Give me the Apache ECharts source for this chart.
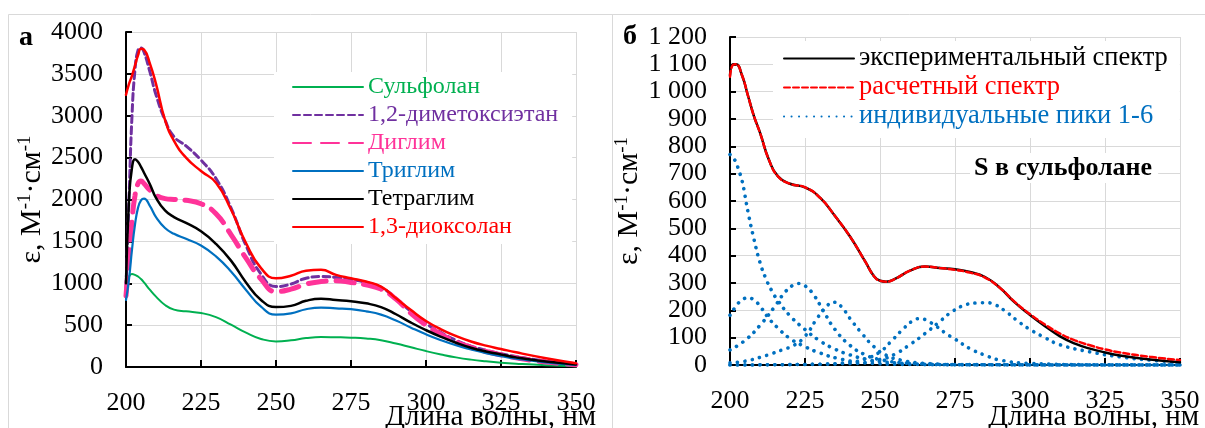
<!DOCTYPE html>
<html><head><meta charset="utf-8">
<script src="https://cdn.jsdelivr.net/npm/echarts@6/dist/echarts.min.js"></script>
<style>html,body{margin:0;padding:0;background:#fff}#c{width:1205px;height:428px}</style>
</head><body><div id="c"></div>
<script>
// ---------- Panel а : spectra in different solvents ----------
const wlLeft = [200,201,202,203,204,205,206,208,210,213,216,220,225,230,235,240,245,250,255,260,265,270,275,280,285,290,295,300,305,310,315,320,325,330,340,350];
const sulfolane  = [1000,1080,1110,1100,1080,1050,1010,920,840,740,685,665,645,595,505,410,335,305,318,345,358,355,350,340,320,280,235,190,150,115,88,68,52,40,22,10];
const dme        = [950,2000,3000,3550,3780,3810,3760,3520,3250,2950,2750,2640,2470,2250,1900,1450,1110,960,990,1060,1080,1070,1045,1010,950,820,660,520,410,320,250,200,160,125,70,35];
const diglyme    = [850,1300,1750,2050,2190,2220,2190,2110,2050,2010,2000,1990,1950,1830,1580,1300,1050,900,930,990,1020,1030,1010,980,930,810,640,500,390,300,235,185,145,110,60,28];
const triglyme   = [800,1050,1400,1700,1900,1990,2010,1920,1790,1660,1590,1530,1450,1320,1140,920,720,625,640,690,710,700,690,665,625,555,470,390,320,260,210,165,130,100,55,25];
const tetraglyme = [1000,2000,2380,2480,2450,2390,2320,2180,2020,1870,1790,1720,1620,1470,1270,1010,800,715,730,790,815,800,785,760,715,630,530,440,360,290,230,185,150,115,65,30];
const dioxolane  = [3250,3380,3480,3600,3720,3800,3790,3620,3380,2950,2700,2500,2340,2200,1880,1480,1180,1060,1090,1150,1160,1100,1060,1020,960,820,680,550,450,370,305,255,215,175,105,45];
const leftNames = ['Сульфолан','1,2-диметоксиэтан','Диглим','Триглим','Тетраглим','1,3-диоксолан'];

// ---------- Panel б : S in sulfolane, deconvolution ----------
const wlRight = [200,201,202,204,206,208,210,213,216,220,225,230,235,240,245,248,250,252,255,260,265,270,275,280,285,290,295,300,305,310,315,320,325,330,340,350];
const expSpectrum  = [1060,1100,1100,1060,985,910,850,750,690,663,650,612,545,470,380,325,308,305,315,345,360,355,350,340,322,282,228,183,142,105,78,60,46,35,20,10];
const calcSpectrum = [1055,1098,1100,1060,985,910,850,750,690,663,650,612,545,470,380,325,308,305,315,345,360,355,348,338,320,282,230,186,148,115,90,72,57,46,30,18];
const wlP1 = [200,201,202,203,204,205,206,208,210,212,214,216,220,225,230,235,240,245,250,260,270,290,320,350];
const peak1 = [770,760,740,710,675,620,560,460,375,315,270,235,180,130,88,58,37,22,13,5,2,1,0,0];
const wlP2 = [200,202,204,206,208,210,213,216,220,225,230,236,245,260,290,350];
const peak2 = [182,215,238,245,238,215,170,135,97,67,44,24,8,2,0,0];
const wlP3 = [200,205,210,215,218,221,223,225,228,231,235,240,245,250,260,275,350];
const peak3 = [55,90,145,215,262,292,298,290,255,200,130,72,38,20,6,1,0];
const wlP4 = [200,205,210,214,218,221,225,229,232,234.5,237,240,244,248,252,257,265,280,350];
const peak4 = [8,14,28,42,58,70,105,170,212,230,215,170,115,67,36,18,6,1,0];
const wlP5 = [200,230,240,245,250,254,258,261,263.5,266,269,272,275,280,285,290,300,320,350];
const peak5 = [0,3,10,22,48,90,135,162,170,160,140,115,95,60,36,18,6,1,0];
const wlP6 = [200,240,250,255,260,265,270,274,278,282,285,288,292,296,300,305,310,320,330,340,350];
const peak6 = [0,5,20,40,75,115,160,195,218,227,228,222,195,160,130,100,74,48,30,18,10];
const rightNames = ['экспериментальный спектр','расчетный спектр','индивидуальные пики 1-6'];

const xTicks = [200,225,250,275,300,325,350];
const yTicksLeft = ['0','500','1000','1500','2000','2500','3000','3500','4000'];
const yTicksRight = ['0','100','200','300','400','500','600','700','800','900','1 000','1 100','1 200'];

const FONT = 'Liberation Serif';
const pairs = (xs, ys) => xs.map((x, i) => [x, ys[i]]);

const chart = echarts.init(document.getElementById('c'), null, {renderer: 'canvas'});

function xAxis(gridIndex) {
  return {
    type: 'value', gridIndex, min: 200, max: 350, interval: 25,
    axisLine: {lineStyle: {color: '#000', width: 2}},
    axisTick: {inside: true, length: 7, lineStyle: {color: '#000', width: 2}},
    axisLabel: {margin: 23, fontFamily: FONT, fontSize: 26, color: '#000',
      formatter: v => String(xTicks[xTicks.indexOf(v)])},
    splitLine: {show: true, lineStyle: {color: '#d9d9d9', width: 1}}
  };
}
function yAxis(gridIndex, max, interval, labels, gap) {
  return {
    type: 'value', gridIndex, min: 0, max, interval,
    axisLine: {show: true, lineStyle: {color: '#000', width: 2}},
    axisTick: {show: true, inside: true, length: 6, lineStyle: {color: '#000', width: 2}},
    axisLabel: {margin: 23, fontFamily: FONT, fontSize: 26, color: '#000',
      formatter: v => labels[Math.round(v / interval)]},
    splitLine: {show: true, lineStyle: {color: '#d9d9d9', width: 1}},
    name: '{a|ε, М}{s|-1}{a|·см}{s|-1}', nameLocation: 'middle', nameGap: gap,
    nameTextStyle: {fontFamily: FONT, color: '#000',
      rich: {a: {fontFamily: FONT, fontSize: 30, color: '#000', lineHeight: 32, verticalAlign: 'bottom'},
             s: {fontFamily: FONT, fontSize: 19, color: '#000', lineHeight: 32, verticalAlign: 'top'}}}
  };
}

function line(name, xs, ys, color, width, dash, xi) {
  return {
    type: 'line', name, data: pairs(xs, ys), xAxisIndex: xi, yAxisIndex: xi,
    symbol: 'none', showSymbol: false, smooth: 0.5, animation: false,
    lineStyle: {color, width, type: dash || 'solid', cap: 'round'}, itemStyle: {color}
  };
}

const peakColor = '#0070C0';
const peakLine = (xs, ys) => line(rightNames[2], xs, ys, peakColor, 3.6, [0.1, 7.4], 1);

const option = {
  backgroundColor: '#fff',
  animation: false,
  grid: [
    {left: 126, top: 32, width: 450, height: 335, outerBoundsMode: 'none', containLabel: false},
    {left: 730, top: 37, width: 450, height: 328, outerBoundsMode: 'none', containLabel: false}
  ],
  xAxis: [xAxis(0), xAxis(1)],
  yAxis: [yAxis(0, 4000, 500, yTicksLeft, 71), yAxis(1, 1200, 100, yTicksRight, 55)],
  legend: [
    {
      left: 274, top: 72, orient: 'vertical', itemWidth: 70, itemHeight: 14, itemGap: 2,
      padding: [2, 14, 4, 18], backgroundColor: '#fff',
      itemStyle: {opacity: 0},
      textStyle: {fontFamily: FONT, fontSize: 24, lineHeight: 26},
      data: [
        {name: leftNames[0], textStyle: {color: '#00B050'}},
        {name: leftNames[1], textStyle: {color: '#7030A0'}},
        {name: leftNames[2], textStyle: {color: '#FF3399'}},
        {name: leftNames[3], textStyle: {color: '#0070C0'}},
        {name: leftNames[4], textStyle: {color: '#000'}},
        {name: leftNames[5], textStyle: {color: '#FF0000'}}
      ]
    },
    {
      left: 773, top: 41, orient: 'vertical', itemWidth: 70, itemHeight: 14, itemGap: 2,
      padding: [4, 12, 8, 10], backgroundColor: '#fff',
      itemStyle: {opacity: 0},
      textStyle: {fontFamily: FONT, fontSize: 26.5, lineHeight: 27},
      data: [
        {name: rightNames[0], textStyle: {color: '#000'}},
        {name: rightNames[1], textStyle: {color: '#FF0000'}},
        {name: rightNames[2], textStyle: {color: '#0070C0'}}
      ]
    }
  ],
  graphic: [
    {type: 'rect', z: -10, shape: {x: 8.5, y: 14.5, width: 604, height: 430}, style: {fill: 'none', stroke: '#d9d9d9', lineWidth: 1}},
    {type: 'rect', z: -10, shape: {x: 612.5, y: 14.5, width: 600, height: 430}, style: {fill: 'none', stroke: '#d9d9d9', lineWidth: 1}},
    {type: 'text', left: 19, top: 24, style: {text: 'а', font: 'bold 28px "Liberation Serif"', fill: '#000'}},
    {type: 'text', left: 623, top: 23, style: {text: 'б', font: 'bold 28px "Liberation Serif"', fill: '#000'}},
    {type: 'text', left: 970, top: 153, z: 5, style: {text: 'S в сульфолане', font: 'bold 26px "Liberation Serif"', fill: '#000', backgroundColor: '#fff', padding: [2, 6, 2, 4]}},
    {type: 'text', x: 596, y: 417, z: 5, style: {text: 'Длина волны, нм', font: '29px "Liberation Serif"', fill: '#000', align: 'right', verticalAlign: 'middle'}},
    {type: 'text', x: 1199, y: 417, z: 5, style: {text: 'Длина волны, нм', font: '29px "Liberation Serif"', fill: '#000', align: 'right', verticalAlign: 'middle'}}
  ],
  series: [
    line(leftNames[0], wlLeft, sulfolane, '#00B050', 2, 'solid', 0),
    line(leftNames[1], wlLeft, dme, '#7030A0', 3, [7, 4], 0),
    line(leftNames[2], wlLeft, diglyme, '#FF3399', 5, [18, 10], 0),
    line(leftNames[3], wlLeft, triglyme, '#0070C0', 2.2, 'solid', 0),
    line(leftNames[4], wlLeft, tetraglyme, '#000', 2.5, 'solid', 0),
    line(leftNames[5], wlLeft, dioxolane, '#FF0000', 2.5, 'solid', 0),
    peakLine(wlP1, peak1), peakLine(wlP2, peak2), peakLine(wlP3, peak3),
    peakLine(wlP4, peak4), peakLine(wlP5, peak5), peakLine(wlP6, peak6),
    line(rightNames[0], wlRight, expSpectrum, '#000', 2.5, 'solid', 1),
    line(rightNames[1], wlRight, calcSpectrum, '#FF0000', 2.5, [6, 3], 1)
  ]
};
chart.setOption(option);
</script>
</body></html>
